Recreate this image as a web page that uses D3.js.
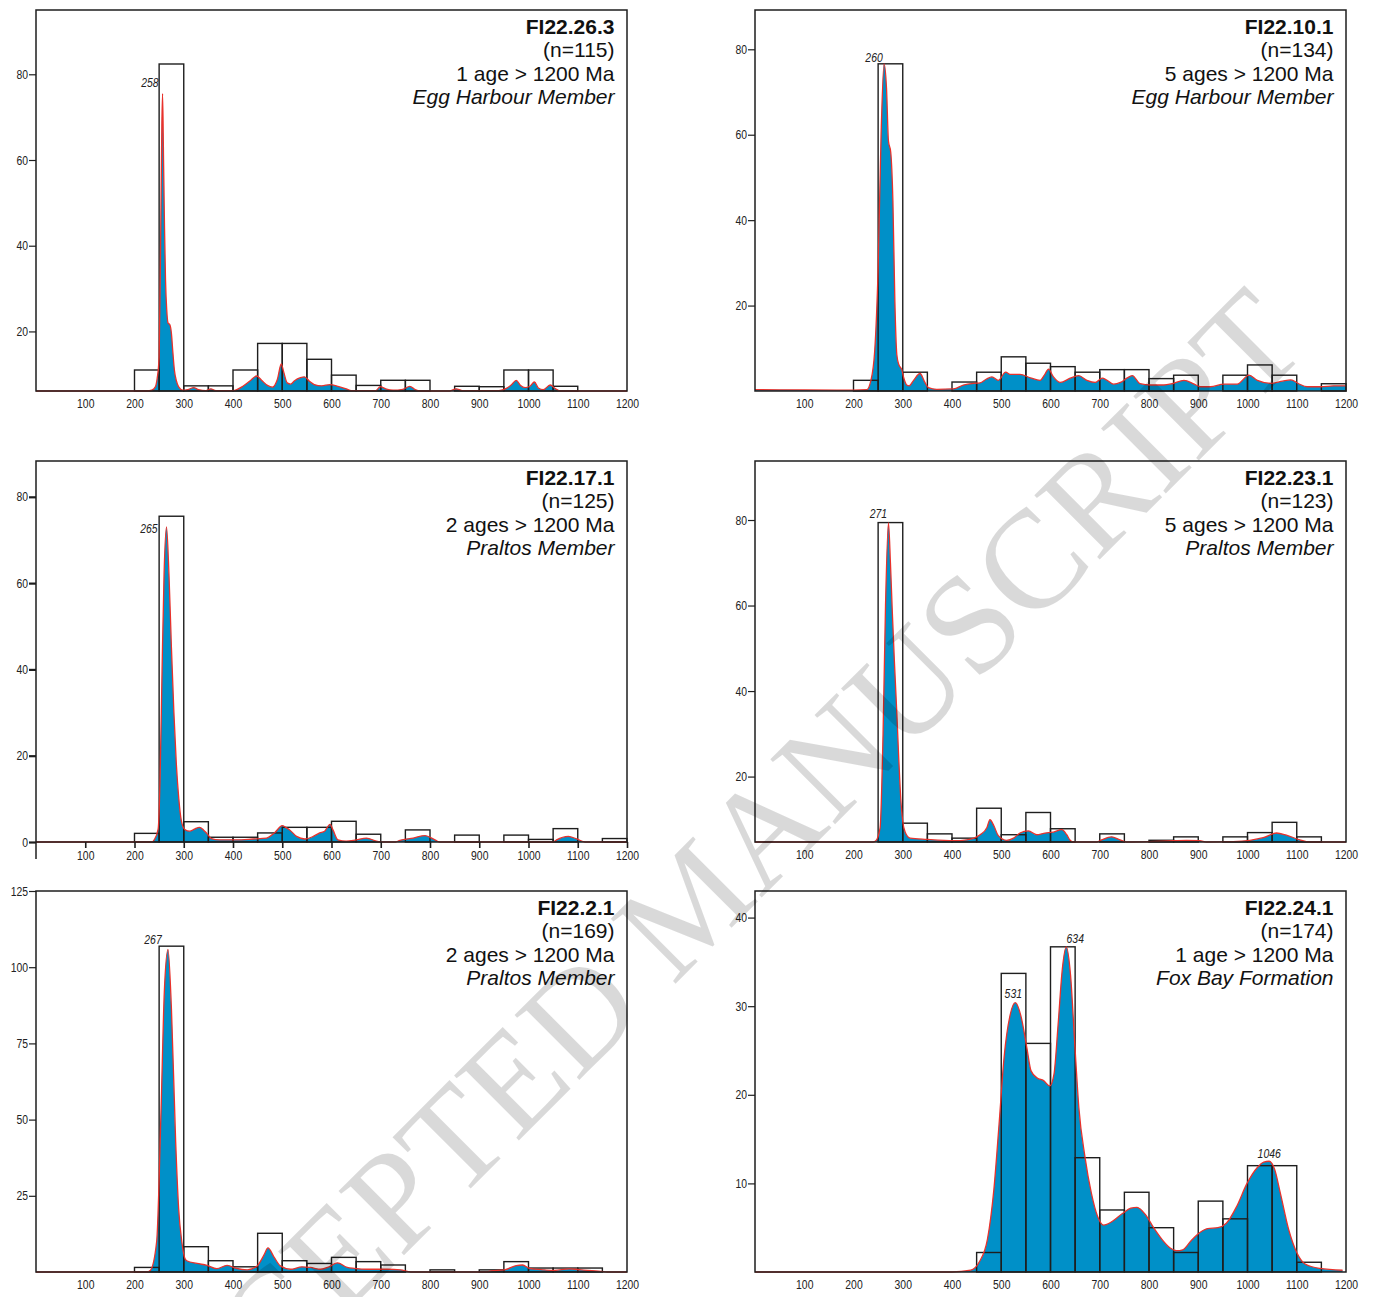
<!DOCTYPE html>
<html>
<head>
<meta charset="utf-8">
<script src="https://cdn.jsdelivr.net/npm/d3@7"></script>
<style>
  body { margin: 0; background: #fff; }
  svg { display: block; }
</style>
</head>
<body>
<div id="chart"></div>
<script>
(function(d3) {
  'use strict';

  // ---- values ----
  var binStarts = [200, 250, 300, 350, 400, 450, 500, 550, 600, 650,
                   700, 750, 800, 850, 900, 950, 1000, 1050, 1100, 1150];
  var binWidth = 50;
  var xTicks = [100, 200, 300, 400, 500, 600, 700, 800, 900, 1000, 1100, 1200];

  var sampleNames = ['FI22.26.3', 'FI22.10.1', 'FI22.17.1', 'FI22.23.1', 'FI22.2.1', 'FI22.24.1'];
  var sampleN = [115, 134, 125, 123, 169, 174];
  var oldAges = [1, 5, 2, 5, 2, 1];
  var units = ['Egg Harbour Member', 'Egg Harbour Member', 'Praltos Member',
               'Praltos Member', 'Praltos Member', 'Fox Bay Formation'];

  var yTicks263 = [20, 40, 60, 80];
  var yTicks101 = [20, 40, 60, 80];
  var yTicks171 = [0, 20, 40, 60, 80];
  var yTicks231 = [20, 40, 60, 80];
  var yTicks21 = [25, 50, 75, 100, 125];
  var yTicks241 = [10, 20, 30, 40];

  // histogram heights, one per bin start (null = empty bin)
  var hist263 = [11.0, 82.4, 7.3, 7.3, 11.0, 17.2, 17.2, 13.5, 9.8, 7.4,
                 8.6, 8.6, null, 7.2, 7.1, 11.0, 11.0, 7.2, null, null];
  var hist101 = [2.5, 76.6, 4.4, null, 2.1, 4.4, 8.0, 6.5, 5.7, 4.4,
                 5.0, 5.0, 2.9, 3.7, null, 3.7, 6.1, 3.7, null, 1.7];
  var hist171 = [2.0, 75.5, 4.7, 1.1, 1.1, 2.1, 3.4, 3.4, 4.8, 1.8,
                 null, 2.8, null, 1.6, null, 1.6, 0.6, 3.1, null, 0.8];
  var hist231 = [null, 79.4, 9.1, 6.6, 5.6, 12.6, 6.4, 11.6, 7.8, null,
                 6.6, null, 5.1, 5.9, null, 5.9, 6.9, 9.3, 5.9, null];
  var hist21 = [1.5, 106.9, 8.3, 3.7, 1.7, 12.7, 3.7, 2.8, 4.8, 3.4,
                2.3, null, 0.7, null, 0.7, 3.4, 1.3, 1.3, 1.3, null];
  var hist241 = [null, null, null, null, null, 2.2, 33.7, 25.8, 36.7, 12.9,
                 7.0, 9.0, 5.0, 2.2, 8.0, 6.0, 12.0, 12.0, 1.1, null];

  // probability density curves [age Ma, value]
  var pdp263 = [[0,6.1],[225,6.1],[235,6.3],[242,7],[246,9],[250,14],[253,40],[255.5,68],[257,75.5],
    [259,60],[261,44],[263,32],[265.5,25],[268,22],[272,21.5],[275,19.5],[278,15],[281,11],[285,8.5],
    [290,7],[298,6.3],[310,6.5],[320,6.9],[330,6.4],[345,6.2],[355,6.6],[365,6.2],[400,6.2],[420,7.2],
    [435,8.5],[448,9.6],[458,8.6],[470,7.4],[480,7],[490,8.8],[498,12.4],[503,10.5],[510,8],[517,7.7],
    [525,8.5],[537,9.2],[545,9.4],[555,8.4],[565,7.6],[580,7.3],[597,7.6],[615,7.1],[630,6.6],[640,6.2],
    [690,6.2],[699,7.1],[710,6.6],[725,6.3],[745,6.5],[759,7.2],[770,6.4],[780,6.1],[840,6.1],[853,6.6],
    [865,6.2],[940,6.2],[955,6.7],[966,7.6],[975,8.6],[984,7.4],[993,6.9],[1003,7.2],[1012,8.2],
    [1020,6.8],[1030,6.4],[1044,7.5],[1055,6.6],[1065,6.1],[1200,6.1]];
  var pdp101 = [[0,0.3],[100,0.25],[200,0.2],[227,0.3],[235,2.3],[243,9.3],[250,28.8],[256,60],[262,76.6],
    [267,71],[271,58.5],[275.5,56],[280,44.5],[284,21],[288,8.5],[292,6.2],[298,5],[302,3.1],[309,1.3],
    [313,1.2],[322,2.5],[335,4.1],[345,2],[352,0.8],[369,0.4],[403,0.5],[423,1.4],[444,1.8],[457,1.9],
    [470,2.8],[481,3.3],[494,2.5],[509,4.4],[518,3.9],[538,3.9],[559,3.1],[579,2.5],[588,3.8],[596,5.1],
    [606,3.3],[620,2],[640,3],[657,3.6],[674,2.5],[691,2],[705,3],[715,2.5],[728,1.6],[742,2],[755,3],
    [766,3.6],[782,1.7],[803,1.4],[830,1.4],[847,1.7],[871,2.5],[892,1.6],[905,1],[925,1],[952,1.6],
    [979,1.6],[1003,3.7],[1020,2.5],[1047,1.8],[1071,2.3],[1088,2.6],[1104,1.7],[1121,1],[1148,1],
    [1175,1.2],[1200,1.2]];
  var pdp171 = [[0,0],[235,0],[240,0.5],[248,3],[252,15],[256,40],[260,62],[265,73],[270,62],[275,45],
    [280,30],[285,18],[290,10],[295,5],[302,2.9],[312,2.5],[322,3],[332,3.4],[340,2.8],[346,2.1],
    [356,0.8],[373,0.5],[407,0.5],[441,0.7],[468,0.9],[485,2.2],[500,3.8],[507,3.4],[515,2.8],[529,1.3],
    [546,0.7],[563,1.3],[576,2.1],[586,2.5],[597,4.1],[603,2.8],[613,0.5],[630,0.2],[650,0.5],[671,0.9],
    [691,0.2],[700,0],[730,0],[739,0.4],[766,0.9],[790,1.5],[810,0.5],[820,0],[1050,0],[1057,0.5],
    [1081,1.3],[1098,0.7],[1115,0],[1200,0]];
  var pdp231 = [[0,4.7],[240,4.7],[245.5,5],[254,8],[260,30],[265,60],[271,79.4],[275,70],[279,58],
    [283,47],[288,34.8],[292,24],[296,14.8],[300,9.5],[305,7],[315,5.6],[349,5.3],[403,5],[430,5.2],
    [457,6.4],[471,8.1],[477,9.9],[485,8.5],[494,6.2],[511,5.1],[525,5.6],[538,6.8],[555,7.3],[572,6.4],
    [589,6.8],[606,7],[623,7.6],[633,6.4],[640,5.1],[646,4.7],[694,4.7],[704,5.2],[724,5.9],[741,5.2],
    [754,4.7],[802,4.8],[849,5],[876,5.1],[903,5],[917,4.7],[971,4.8],[1005,5.1],[1032,5.7],[1059,6.8],
    [1079,6.3],[1106,5.2],[1126,4.7],[1200,4.7]];
  var pdp21 = [[0,0],[225,0],[232,0.5],[245,10],[254,53.6],[260.5,91.8],[268,105.8],[275,86.4],
    [283.6,42.7],[289.6,20.9],[296,10],[302,4.6],[306,3.7],[327,2.8],[347,2.2],[367,1.1],[388,2.2],
    [405,1.3],[429,0.7],[449,2],[463,5.6],[471,7.9],[483,5],[496,2],[517,0.9],[540,1.7],[557,1.5],
    [578,0.9],[595,1.7],[612,3],[632,1.5],[646,1.2],[673,0.9],[713,0.9],[740,0.7],[761,0],[915,0],
    [924,0.4],[951,0.7],[975,2.1],[988,2.3],[1002,1.2],[1032,0.7],[1052,0.5],[1083,1],[1107,0.7],
    [1147,0.2],[1160,0],[1200,0]];
  var pdp241 = [[0,0],[400,0],[438,0.2],[455,1.1],[472,3.7],[485,9.3],[495.6,16.7],[505.7,24.2],[518,29],
    [528.5,30.4],[539.5,29],[552,25.3],[560.5,22.7],[573,21.9],[586,21.6],[598.5,21],[607,22.3],
    [615.4,27.9],[624,34.2],[632,36.7],[640.7,33.5],[649,26],[657.5,18.6],[670,13],[683,8.9],[695.5,6.3],
    [708,5.3],[725,5.7],[746,6.6],[763,7.2],[775.7,7.3],[792.5,6.5],[809.4,5],[826,3.7],[843,2.7],
    [856,2.4],[868.5,2.5],[885,3.5],[902,4.4],[919,4.9],[940,5],[957,5.5],[978,7.4],[999,10],
    [1020,11.8],[1033,12.4],[1044,12.5],[1055,11.6],[1066.7,8.9],[1083.6,4.8],[1100,2.2],[1117,0.9],
    [1147,0.4],[1193,0.2]];

  var peaks263 = [258];
  var peaks101 = [260];
  var peaks171 = [265];
  var peaks231 = [271];
  var peaks21 = [267];
  var peaks241 = [531, 634, 1046];

  // ---- layout ----
  var width = 1373;
  var height = 1297;
  var colLeft = [36, 755];
  var rowTop = [10, 461, 891];
  var plotW = 591;
  var plotH = 381;
  var yDomains = [[6.1, 95], [0, 89.2], [0, 88.3], [4.7, 93.8], [0, 125], [0, 43]];
  var peakOffsets = [
    [[-4, -7, 'end']],
    [[-10, -2, 'middle']],
    [[-9, 6, 'end']],
    [[-10, -5, 'middle']],
    [[-15, -6, 'middle']],
    [[-2, -5, 'middle'], [9, -4, 'middle'], [0, -3, 'middle']]
  ];

  var blue = '#0090c8';
  var red = '#e8322c';
  var ink = '#1e1e1e';

  var panels = [
    { hist: hist263, pdp: pdp263, ticks: yTicks263, peaks: peaks263 },
    { hist: hist101, pdp: pdp101, ticks: yTicks101, peaks: peaks101 },
    { hist: hist171, pdp: pdp171, ticks: yTicks171, peaks: peaks171 },
    { hist: hist231, pdp: pdp231, ticks: yTicks231, peaks: peaks231 },
    { hist: hist21, pdp: pdp21, ticks: yTicks21, peaks: peaks21 },
    { hist: hist241, pdp: pdp241, ticks: yTicks241, peaks: peaks241 }
  ];

  // condensed face for the small numbers, if the machine has one
  function hasFont(name) {
    var c = document.createElement('canvas').getContext('2d');
    var s = 'mmmmllii 1000 Harbour';
    c.font = '40px monospace';
    var a = c.measureText(s).width;
    c.font = '40px "' + name + '", monospace';
    return c.measureText(s).width !== a;
  }
  var narrowOk = hasFont('Liberation Sans Narrow');
  var smallFont = narrowOk ? '"Liberation Sans Narrow", "Liberation Sans", sans-serif'
                           : '"Liberation Sans", Arial, sans-serif';
  var smallSquash = narrowOk ? 'scale(1,1)' : 'scale(0.8,1)';
  var fmt = d3.format('d');

  var svg = d3.select('#chart')
    .append('svg')
    .attr('width', width)
    .attr('height', height);

  panels.forEach(function(p, i) {
    var left = colLeft[i % 2];
    var top = rowTop[Math.floor(i / 2)];
    var dom = yDomains[i];

    var x = d3.scaleLinear().domain([0, 1200]).range([left, left + plotW]);
    var y = d3.scaleLinear().domain(dom).range([top + plotH, top]);
    var base = y(dom[0]);

    var g = svg.append('g').attr('class', 'panel');

    var area = d3.area()
      .x(function(d) { return x(d[0]); })
      .y0(base)
      .y1(function(d) { return y(Math.max(d[1], dom[0])); })
      .curve(d3.curveMonotoneX);
    var line = d3.line()
      .x(function(d) { return x(d[0]); })
      .y(function(d) { return y(Math.max(d[1], dom[0])); })
      .curve(d3.curveMonotoneX);

    g.append('path')
      .datum(p.pdp)
      .attr('d', area)
      .attr('fill', blue);

    var bins = binStarts.map(function(b, k) { return { start: b, v: p.hist[k] }; })
      .filter(function(d) { return d.v !== null; });

    g.selectAll('rect.bin')
      .data(bins)
      .enter()
      .append('rect')
      .attr('class', 'bin')
      .attr('x', function(d) { return x(d.start); })
      .attr('width', function(d) { return x(d.start + binWidth) - x(d.start); })
      .attr('y', function(d) { return y(d.v); })
      .attr('height', function(d) { return base - y(d.v); })
      .attr('fill', 'none')
      .attr('stroke', ink)
      .attr('stroke-width', 1.4);

    g.append('path')
      .datum(p.pdp)
      .attr('d', line)
      .attr('fill', 'none')
      .attr('stroke', red)
      .attr('stroke-width', 1.3);

    // frame
    g.append('rect')
      .attr('x', left)
      .attr('y', top)
      .attr('width', plotW)
      .attr('height', plotH)
      .attr('fill', 'none')
      .attr('stroke', ink)
      .attr('stroke-width', 1.5);

    var bold = (i === 2);

    var yAxis = g.append('g')
      .attr('transform', 'translate(' + left + ',0)')
      .call(d3.axisLeft(y).tickValues(p.ticks).tickFormat(fmt).tickSize(7).tickPadding(3));
    yAxis.select('.domain').remove();
    yAxis.selectAll('line').attr('stroke', ink).attr('stroke-width', bold ? 2.2 : 1.2);
    yAxis.selectAll('text')
      .attr('fill', '#222')
      .style('font-family', smallFont)
      .style('font-size', '13px')
      .attr('transform', smallSquash);

    var xAxis = g.append('g')
      .attr('transform', 'translate(0,' + base + ')')
      .call(d3.axisBottom(x).tickValues(xTicks).tickFormat(fmt)
        .tickSize(bold ? 6 : 0).tickPadding(bold ? 3 : 8));
    xAxis.select('.domain').remove();
    xAxis.selectAll('line').attr('stroke', ink).attr('stroke-width', 1.6);
    xAxis.selectAll('text')
      .attr('fill', '#222')
      .style('font-family', smallFont)
      .style('font-size', '13px')
      .attr('transform', smallSquash);

    if (bold) {
      g.append('line')
        .attr('x1', left).attr('x2', left)
        .attr('y1', base).attr('y2', base + 17)
        .attr('stroke', ink).attr('stroke-width', 1.5);
    }

    // sample caption
    var lines = [
      sampleNames[i],
      '(n=' + sampleN[i] + ')',
      oldAges[i] + (oldAges[i] === 1 ? ' age' : ' ages') + ' > 1200 Ma',
      units[i]
    ];
    g.selectAll('text.caption')
      .data(lines)
      .enter()
      .append('text')
      .attr('class', 'caption')
      .attr('x', left + plotW - 12.5)
      .attr('y', function(d, k) { return top + 23.5 + k * 23.6; })
      .attr('text-anchor', 'end')
      .attr('fill', '#111')
      .style('font-family', '"Liberation Sans", Arial, sans-serif')
      .style('font-size', '21px')
      .style('font-weight', function(d, k) { return k === 0 ? 'bold' : 'normal'; })
      .style('font-style', function(d, k) { return k === 3 ? 'italic' : 'normal'; })
      .text(function(d) { return d; });

    // peak ages
    p.peaks.forEach(function(age, k) {
      var near = p.pdp.filter(function(d) { return Math.abs(d[0] - age) <= 12; });
      var top1 = d3.greatest(near, function(d) { return d[1]; });
      var off = peakOffsets[i][k];
      var px = x(top1[0]) + off[0];
      var py = y(top1[1]) + off[1];
      g.append('text')
        .attr('transform', 'translate(' + px + ',' + py + ') ' + smallSquash)
        .attr('text-anchor', off[2])
        .attr('fill', '#222')
        .style('font-family', smallFont)
        .style('font-size', '13px')
        .style('font-style', 'italic')
        .text(age);
    });
  });

  // watermark of the source document
  svg.append('text')
    .attr('transform', 'translate(690,902) rotate(-45)')
    .attr('text-anchor', 'middle')
    .attr('dominant-baseline', 'central')
    .attr('fill', '#000')
    .attr('fill-opacity', 0.15)
    .style('font-family', '"Liberation Serif", "Times New Roman", serif')
    .style('font-size', '140px')
    .text('ACCEPTED MANUSCRIPT');

})(window.d3);
</script>
</body>
</html>
